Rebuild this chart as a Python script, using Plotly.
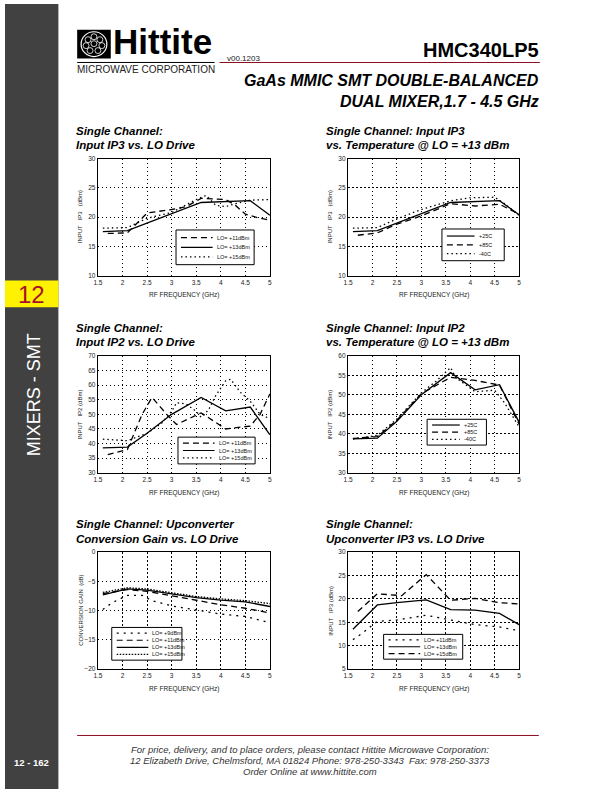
import plotly.graph_objects as go

W, H = 612, 792
FONT = "Liberation Sans, Arial, Helvetica, sans-serif"

# ---------------- DATA ----------------
# Chart 1: Input IP3 vs LO Drive
c1_x_11 = [1.7, 2.1, 2.5, 3.0, 3.3, 3.6, 4.1, 4.3, 4.5, 4.8, 5.0]
c1_y_11 = [17.2, 17.3, 20.7, 21.3, 21.8, 23.2, 23.0, 22.0, 20.5, 19.8, 19.5]
c1_x_13 = [1.6, 2.1, 3.6, 4.1, 4.6, 5.0]
c1_y_13 = [17.5, 17.7, 22.5, 22.7, 22.8, 20.3]
c1_x_15 = [1.6, 2.1, 2.5, 3.0, 3.5, 3.7, 3.9, 4.1, 4.3, 4.6, 5.0]
c1_y_15 = [18.1, 18.2, 19.8, 20.8, 23.0, 23.7, 22.0, 21.8, 22.3, 22.9, 23.0]

# Chart 2: Input IP3 vs Temperature
c2_x_25 = [1.6, 2.1, 3.6, 4.1, 4.6, 5.0]
c2_y_25 = [17.5, 17.7, 22.5, 22.7, 22.8, 20.4]
c2_x_85 = [1.7, 2.1, 2.5, 3.0, 3.6, 4.1, 4.6, 5.0]
c2_y_85 = [16.9, 17.3, 18.8, 20.2, 22.3, 21.9, 22.2, 20.5]
c2_x_m40 = [1.6, 2.1, 2.5, 3.0, 3.6, 4.0, 4.5, 4.7, 5.0]
c2_y_m40 = [18.1, 18.2, 19.7, 21.3, 22.8, 23.3, 23.4, 22.3, 20.3]

# Chart 3: Input IP2 vs LO Drive
c3_x_11 = [1.7, 2.1, 2.4, 2.6, 2.9, 3.1, 3.6, 4.1, 4.6, 4.8, 5.0]
c3_y_11 = [36.2, 38.0, 50.0, 55.8, 50.0, 46.5, 50.5, 45.0, 46.0, 50.0, 57.0]
c3_x_13 = [1.6, 2.1, 2.5, 3.0, 3.6, 4.1, 4.6, 5.0]
c3_y_13 = [38.5, 38.8, 43.5, 50.0, 55.8, 51.2, 52.5, 43.0]
c3_x_15 = [1.6, 2.1, 2.5, 2.8, 3.0, 3.1, 3.3, 3.5, 3.6, 3.75, 3.9, 4.1, 4.2, 4.4, 4.6, 4.8, 5.0]
c3_y_15 = [41.5, 41.0, 43.5, 47.0, 51.0, 54.0, 53.5, 51.0, 49.0, 51.5, 56.5, 61.5, 62.0, 57.5, 54.5, 50.0, 48.5]

# Chart 4: Input IP2 vs Temperature
c4_x_25 = [1.6, 2.1, 2.5, 3.0, 3.6, 4.1, 4.6, 5.0]
c4_y_25 = [38.7, 38.9, 43.2, 50.0, 55.7, 51.3, 52.6, 43.0]
c4_x_85 = [1.6, 2.1, 2.5, 3.0, 3.6, 4.1, 4.6, 5.0]
c4_y_85 = [38.8, 39.3, 43.5, 50.3, 54.5, 53.7, 52.5, 42.5]
c4_x_m40 = [1.6, 2.1, 2.5, 3.0, 3.3, 3.6, 3.7, 4.1, 4.5, 4.7, 5.0]
c4_y_m40 = [38.7, 39.6, 43.8, 50.5, 53.5, 57.0, 54.5, 50.8, 51.2, 48.0, 41.8]

# Chart 5: Upconverter Conversion Gain vs LO Drive
c5_x = [1.6, 2.1, 2.5, 3.0, 3.5, 4.0, 4.5, 5.0]
c5_y_11 = [-7.1, -6.4, -6.7, -7.5, -8.3, -9.0, -9.6, -10.4]
c5_y_13 = [-7.3, -6.3, -6.5, -7.2, -7.8, -8.2, -8.5, -9.3]
c5_y_15 = [-6.9, -6.1, -6.3, -7.0, -7.6, -8.0, -8.3, -8.8]
c5_x_9 = [1.6, 1.8, 2.1, 2.4, 2.6, 3.0, 3.5, 4.0, 4.5, 5.0]
c5_y_9 = [-9.8, -8.6, -7.4, -7.4, -8.3, -9.2, -9.9, -10.6, -11.0, -12.1]

# Chart 6: Upconverter IP3 vs LO Drive
c6_x_11 = [1.6, 1.8, 1.95, 2.1, 2.5, 3.1, 3.6, 4.1, 4.6, 5.0]
c6_y_11 = [11.3, 12.7, 14.0, 15.2, 15.5, 16.5, 15.5, 14.5, 14.0, 13.2]
c6_x_13 = [1.6, 2.1, 2.5, 3.1, 3.6, 4.1, 4.6, 5.0]
c6_y_13 = [13.5, 18.7, 19.2, 19.8, 17.7, 17.6, 16.9, 14.5]
c6_x_15 = [1.7, 2.1, 2.6, 3.1, 3.6, 4.1, 4.6, 5.0]
c6_y_15 = [17.3, 21.1, 20.7, 25.2, 19.7, 20.1, 19.2, 18.9]

x_range = [1.5, 5]
x_dtick = 0.5

# ---------------- STYLE / LAYOUT ----------------
def fx(px):
    return px / W

def fy(py):
    return 1 - py / H

SOLID = "solid"
DASH = "6px,4px"
DOT = "1.5px,3px"
DOT_SPARSE = "2px,5px"
DOT_DENSE = "1.5px,1.5px"

charts = [
    dict(box=(94, 156, 268, 274), yr=[10, 30], dt=5,
         title=["Single Channel:", "Input IP3 vs. LO Drive"],
         ytitle="INPUT   IP3   (dBm)",
         series=[(c1_x_11, c1_y_11, "LO= +11dBm", DASH),
                 (c1_x_13, c1_y_13, "LO= +13dBm", SOLID),
                 (c1_x_15, c1_y_15, "LO= +15dBm", DOT)],
         leg=(173, 228, 252, 263)),
    dict(box=(347, 156, 520, 274), yr=[10, 30], dt=5,
         title=["Single Channel: Input IP3", "vs. Temperature @ LO = +13 dBm"],
         ytitle="INPUT   IP3   (dBm)",
         series=[(c2_x_25, c2_y_25, "+25C", SOLID),
                 (c2_x_85, c2_y_85, "+85C", DASH),
                 (c2_x_m40, c2_y_m40, "-40C", DOT)],
         leg=(442, 227, 505, 259)),
    dict(box=(94, 355, 268, 473), yr=[30, 70], dt=5,
         title=["Single Channel:", "Input IP2 vs. LO Drive"],
         ytitle="INPUT   IP2 (dBm)",
         series=[(c3_x_11, c3_y_11, "LO= +11dBm", DASH),
                 (c3_x_13, c3_y_13, "LO= +13dBm", SOLID),
                 (c3_x_15, c3_y_15, "LO= +15dBm", DOT)],
         leg=(175, 437, 253, 464)),
    dict(box=(347, 355, 520, 473), yr=[30, 60], dt=5,
         title=["Single Channel: Input IP2", "vs. Temperature @ LO = +13 dBm"],
         ytitle="INPUT   IP2 (dBm)",
         series=[(c4_x_25, c4_y_25, "+25C", SOLID),
                 (c4_x_85, c4_y_85, "+85C", DASH),
                 (c4_x_m40, c4_y_m40, "-40C", DOT)],
         leg=(427, 419, 487, 445)),
    dict(box=(94, 553, 268, 671), yr=[-20, 0], dt=5,
         title=["Single Channel: Upconverter", "Conversion Gain vs. LO Drive"],
         ytitle="CONVERSION GAIN  (dB)",
         series=[(c5_x_9, c5_y_9, "LO= +9dBm", DOT_SPARSE),
                 (c5_x, c5_y_11, "LO= +11dBm", DASH),
                 (c5_x, c5_y_13, "LO= +13dBm", SOLID),
                 (c5_x, c5_y_15, "LO= +15dBm", DOT_DENSE)],
         leg=(108, 629, 179, 662)),
    dict(box=(347, 553, 520, 671), yr=[5, 30], dt=5,
         title=["Single Channel:", "Upconverter IP3 vs. LO Drive"],
         ytitle="INPUT   IP3 (dBm)",
         series=[(c6_x_11, c6_y_11, "LO= +11dBm", DOT_SPARSE),
                 (c6_x_13, c6_y_13, "LO= +13dBm", SOLID),
                 (c6_x_15, c6_y_15, "LO= +15dBm", DASH)],
         leg=(383, 636, 463, 661)),
]

fig = go.Figure()
annotations = []
shapes = []


def ann(text, x, y, size, xanchor="center", yanchor="middle", color="black",
        angle=0, bold=False, italic=False, family=FONT):
    t = text
    if italic:
        t = "<i>" + t + "</i>"
    if bold:
        t = "<b>" + t + "</b>"
    annotations.append(dict(text=t, x=fx(x), y=fy(y), xref="paper", yref="paper",
                            xanchor=xanchor, yanchor=yanchor, showarrow=False,
                            textangle=angle, borderpad=0,
                            font=dict(size=size, color=color, family=family)))


def rect(x0, y0, x1, y1, fill=None, line=None, lw=1, layer="above"):
    shapes.append(dict(type="rect", xref="paper", yref="paper",
                       x0=fx(x0), x1=fx(x1), y0=fy(y1), y1=fy(y0),
                       fillcolor=fill if fill else "rgba(0,0,0,0)",
                       line=dict(color=line if line else "rgba(0,0,0,0)", width=lw if line else 0),
                       layer=layer))


def hline(x0, x1, y, color, width=1, dash="solid"):
    shapes.append(dict(type="line", xref="paper", yref="paper",
                       x0=fx(x0), x1=fx(x1), y0=fy(y), y1=fy(y),
                       line=dict(color=color, width=width, dash=dash), layer="above"))


for i, c in enumerate(charts, start=1):
    x0, y0, x1, y1 = c["box"]
    xa = "x" if i == 1 else f"x{i}"
    ya = "y" if i == 1 else f"y{i}"
    axis_common = dict(showline=True, mirror=True, linecolor="black", linewidth=1.3,
                       showgrid=True, gridcolor="black", gridwidth=0.8,
                       griddash="1.5px,2.5px", zeroline=False, ticks="",
                       tickfont=dict(size=6.5, family=FONT, color="#222"))
    fig.update_layout(**{
        ("xaxis" if i == 1 else f"xaxis{i}"): dict(
            domain=[fx(x0), fx(x1)], anchor=ya, range=x_range, dtick=x_dtick,
            tick0=1.5, **axis_common),
        ("yaxis" if i == 1 else f"yaxis{i}"): dict(
            domain=[fy(y1), fy(y0)], anchor=xa, range=c["yr"], dtick=c["dt"],
            **axis_common),
    })
    for xs, ys, name, dash in c["series"]:
        fig.add_trace(go.Scatter(x=xs, y=ys, mode="lines", name=name,
                                 xaxis=xa, yaxis=ya, showlegend=False,
                                 line=dict(color="black", width=1.3, dash=dash)))
    # titles
    ann(c["title"][0], x0 - 23, y0 - 28, 11.5, xanchor="left", bold=True, italic=True)
    ann(c["title"][1], x0 - 23, y0 - 13.5, 11.5, xanchor="left", bold=True, italic=True)
    # axis titles
    ann("RF FREQUENCY (GHz)", (x0 + x1) / 2, y1 + 20, 6.5, color="#222")
    ann(c["ytitle"], x0 - 18, (y0 + y1) / 2, 6, angle=-90, color="#222")
    # legend
    lx0, ly0, lx1, ly1 = c["leg"]
    rect(lx0, ly0, lx1, ly1, fill="white", line="black", lw=1)
    n = len(c["series"])
    step = (ly1 - ly0) / (n + 0.6)
    samp = 32 if (lx1 - lx0) > 70 else 28
    for k, (xs, ys, name, dash) in enumerate(c["series"]):
        yy = ly0 + step * (k + 0.8)
        hline(lx0 + 5, lx0 + 5 + samp, yy, "black", 1.2, dash)
        ann(name, lx0 + 8 + samp, yy, 5.5, xanchor="left", color="#111")

# ---------------- PAGE DECORATION ----------------
# sidebar
rect(0, 0, 54, 792, fill="#414141", layer="below")
rect(0, 279, 54, 306, fill="#fff200")
ann("12", 27, 293, 24, color="#a8102a")
ann("MIXERS - SMT", 29, 394, 18, angle=-90, color="white")
ann("12 - 162", 27, 765, 9.5, color="white", bold=True)

# logo
rect(73, 26, 107, 55, fill="black")
shapes.append(dict(type="circle", xref="paper", yref="paper",
                   x0=fx(77), x1=fx(103), y0=fy(53), y1=fy(28),
                   line=dict(color="white", width=1.2), layer="above"))
for cx, cy in [(84, 36), (90, 33), (96, 36), (82, 42), (90, 40), (98, 42), (86, 47), (94, 47)]:
    shapes.append(dict(type="circle", xref="paper", yref="paper",
                       x0=fx(cx - 3), x1=fx(cx + 3), y0=fy(cy + 3), y1=fy(cy - 3),
                       line=dict(color="white", width=0.8), layer="above"))
ann("Hittite", 108, 38, 35, xanchor="left", bold=True)
hline(73, 212, 59, "black", 1)
ann("MICROWAVE CORPORATION", 142.5, 66, 10, color="#222")
ann("v00.1203", 224, 55, 8, xanchor="left", color="#222")
ann("HMC340LP5", 541, 46, 20, xanchor="right", bold=True)
hline(217, 541, 59, "#8b1020", 1.2)
ann("GaAs MMIC SMT DOUBLE-BALANCED", 541, 77, 16, xanchor="right", bold=True, italic=True)
ann("DUAL MIXER,1.7 - 4.5 GHz", 541, 98, 16, xanchor="right", bold=True, italic=True)

# footer
hline(73, 540, 738, "#8b1020", 1)
ann("For price, delivery, and to place orders, please contact Hittite Microwave Corporation:",
    309, 752, 9.5, italic=True, color="#333")
ann("12 Elizabeth Drive, Chelmsford, MA 01824 Phone: 978-250-3343  Fax: 978-250-3373",
    309, 763, 9.5, italic=True, color="#333")
ann("Order Online at www.hittite.com", 309, 774, 9.5, italic=True, color="#333")

fig.update_layout(width=W, height=H, margin=dict(l=0, r=0, t=0, b=0),
                  paper_bgcolor="white", plot_bgcolor="white",
                  showlegend=False, annotations=annotations, shapes=shapes,
                  font=dict(family=FONT))

fig.write_html("out.html", config={"displayModeBar": False},
               post_script="document.body.style.margin='0';document.body.style.overflow='hidden';")
